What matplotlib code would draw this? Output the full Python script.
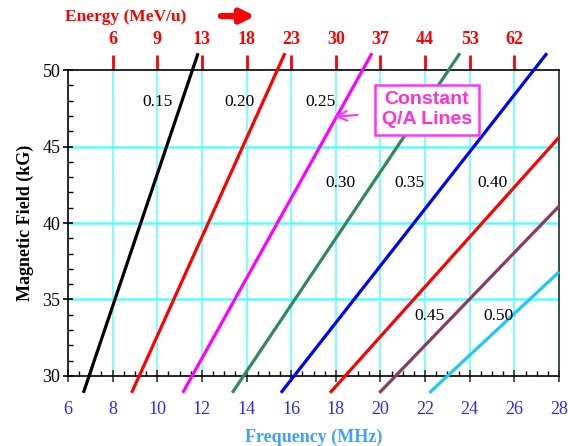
import matplotlib
matplotlib.use('Agg')
import matplotlib.pyplot as plt
from matplotlib.ticker import MultipleLocator

# constant Q/A lines, endpoints (MHz, kG)
qa_labels = ['0.15', '0.20', '0.25', '0.30', '0.35', '0.40', '0.45', '0.50']
line_colors = ['black', '#ff0000', '#ff00ff', '#2e8b57', '#0000ff', '#ff0000', '#8b3a62', '#1ec8f5']
f_start = [6.69, 8.85, 11.14, 13.36, 15.54, 17.74, 19.95, 22.19]
b_start = [28.9, 28.9, 28.9, 28.9, 28.9, 28.9, 28.9, 28.9]
f_end = [11.83, 15.72, 19.62, 23.56, 27.46, 28.0, 28.0, 28.0]
b_end = [51.1, 51.1, 51.1, 51.1, 51.1, 45.6, 41.1, 36.8]

# where the Q/A numbers sit
label_f = [10.0, 13.7, 17.3, 18.2, 21.3, 25.0, 22.2, 25.3]
label_b = [47.9, 47.9, 47.9, 42.6, 42.6, 42.6, 33.9, 33.9]

# top energy scale
energy_freq = [8, 10, 12, 14, 16, 18, 20, 22, 24, 26]
energy_labels = ['6', '9', '13', '18', '23', '30', '37', '44', '53', '62']

serif = 'Liberation Serif'
plt.rcParams['font.family'] = serif

fig = plt.figure(figsize=(5.68, 4.46), dpi=100)
ax = fig.add_axes([0.1197, 0.157, 0.8645, 0.686])
ax.set_xlim(6, 28)
ax.set_ylim(30, 50)

# cyan grid
for f in range(8, 28, 2):
    ax.axvline(f, color='#55ffff', lw=1.1, zorder=1)
for b in [35, 40, 45]:
    ax.axhline(b, color='#55ffff', lw=1.8, zorder=1)

for i in range(len(qa_labels)):
    ax.plot([f_start[i], f_end[i]], [b_start[i], b_end[i]], color=line_colors[i],
            lw=2.3, clip_on=False, zorder=3, solid_capstyle='butt')
    ax.text(label_f[i], label_b[i], qa_labels[i], fontsize=12.5, ha='center', va='center',
            zorder=4)

# axis ticks
ax.xaxis.set_major_locator(MultipleLocator(2))
ax.xaxis.set_minor_locator(MultipleLocator(0.5))
ax.yaxis.set_major_locator(MultipleLocator(5))
ax.yaxis.set_minor_locator(MultipleLocator(1))
ax.tick_params(axis='x', which='major', direction='inout', length=8, width=1.2,
               labelsize=13, labelcolor='#2a2aff', pad=14, top=False, color='#333333')
ax.tick_params(axis='x', which='minor', direction='in', length=3.5, width=1, top=False)
ax.tick_params(axis='y', which='major', direction='inout', length=7, width=1.2,
               labelsize=13, pad=2, right=False)
ax.tick_params(axis='y', which='minor', direction='in', length=3.5, width=1, right=False)
for s in ax.spines.values():
    s.set_linewidth(1.2)
ax.spines['right'].set_color('#113333')

ax.set_xlabel('Frequency (MHz)', fontsize=13, fontweight='bold', color='#3fa0ff', labelpad=8)
ax.set_ylabel('Magnetic Field (kG)', fontsize=13, fontweight='bold', labelpad=6)

# energy axis on top
top = ax.secondary_xaxis('top')
top.set_xticks(energy_freq)
top.set_xticklabels(energy_labels)
top.tick_params(axis='x', direction='out', length=11, width=2, color='red',
                labelcolor='red', labelsize=13, pad=5)
for lab in top.get_xticklabels():
    lab.set_fontweight('bold')
top.spines['top'].set_visible(False)

fig.text(0.222, 0.962, 'Energy (MeV/u)', color='red', fontsize=12.5, fontweight='bold',
         ha='center', va='center')
ax.annotate('', xy=(0.449, 0.964), xytext=(0.389, 0.964), xycoords='figure fraction',
            textcoords='figure fraction',
            arrowprops=dict(arrowstyle='-|>,head_width=0.4,head_length=0.8', lw=4.5,
                            color='red', shrinkA=0, shrinkB=0))

# callout box
ax.annotate('Constant\nQ/A Lines', xy=(17.96, 46.95), xytext=(22.08, 47.4),
            fontsize=14, fontweight='bold', color='#ff33cc', family='Liberation Sans',
            ha='center', va='center', linespacing=1.2, zorder=5,
            bbox=dict(boxstyle='square,pad=0.35', fc='white', ec='#ff33ff', lw=1.8),
            arrowprops=dict(arrowstyle='->,head_width=0.25,head_length=0.5', color='#ff33ff',
                            lw=1.5, shrinkA=12, shrinkB=0))

fig.savefig('out.png', dpi=100)
